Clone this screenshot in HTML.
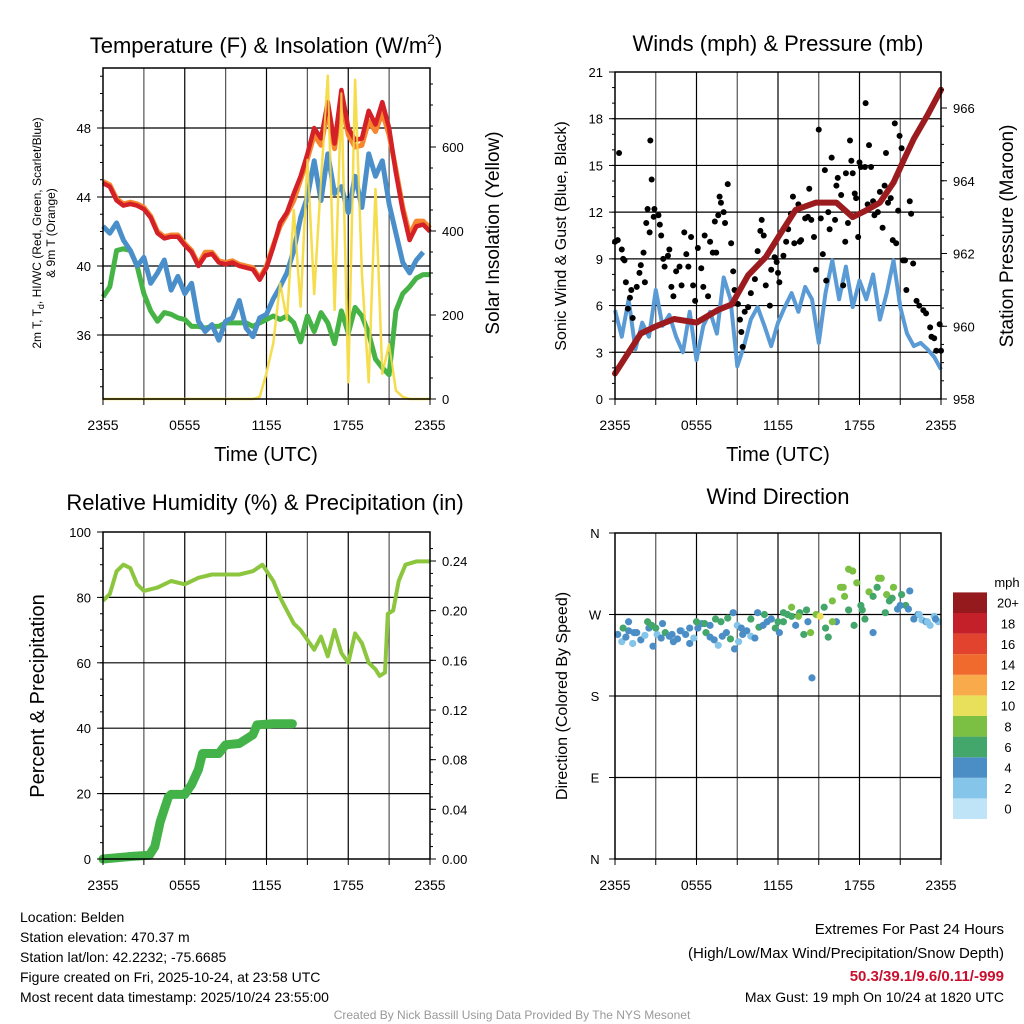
<!DOCTYPE html>
<html><head><meta charset="utf-8"><style>
body{margin:0;background:#fff;}
svg{display:block;font-family:"Liberation Sans",sans-serif;}
</style></head><body>
<svg id="c" width="1024" height="1024" viewBox="0 0 1024 1024"></svg>
<script>
// ---------- DATA ----------
const halfHours = [0,0.5,1,1.5,2,2.5,3,3.5,4,4.5,5,5.5,6,6.5,7,7.5,8,8.5,9,9.5,10,10.5,11,11.5,12,12.5,13,13.5,14,14.5,15,15.5,16,16.5,17,17.5,18,18.5,19,19.5,20,20.5,21,21.5,22,22.5,23,23.5,24];
const tempRed = [44.8,44.6,43.8,43.5,43.6,43.5,43.3,42.8,41.9,41.6,41.7,41.7,41.2,40.8,40.0,40.6,40.7,40.2,40.1,40.2,40.0,39.9,39.8,39.2,39.9,41.1,42.5,43.1,44.2,45.2,46.5,48.0,47.4,49.5,47.1,50.2,48.0,47.3,47.4,49.0,48.2,49.5,48.0,45.4,43.2,41.5,42.3,42.4,42.0];
const tempOrange = [44.9,44.7,43.9,43.6,43.7,43.6,43.4,42.9,42.0,41.7,41.8,41.8,41.3,40.9,40.1,40.8,40.8,40.3,40.2,40.3,40.1,40.0,39.9,39.3,40.0,41.2,42.3,43.0,43.8,45.0,46.2,47.6,47.0,49.0,46.8,49.6,47.6,46.9,47.0,48.4,47.8,48.9,47.6,45.6,43.4,41.8,42.6,42.6,42.2];
const tempBlue = [42.3,41.9,42.5,41.5,40.9,40.0,40.5,39.0,39.6,40.35,38.6,39.4,38.4,39.0,36.8,36.2,36.6,35.7,36.8,37.0,38.0,36.4,35.9,37.0,37.2,38.1,38.8,39.6,40.9,42.8,44.0,46.1,43.8,46.5,44.2,44.6,43.1,45.2,43.4,46.5,45.2,46.1,43.6,41.9,40.2,39.6,40.35,40.8,null];
const tempGreen = [38.2,38.8,40.9,41.0,40.9,40.0,38.4,37.4,36.8,37.3,37.2,37.0,36.9,36.5,36.5,36.4,36.5,36.5,36.7,36.7,36.7,36.7,36.5,36.7,36.9,37.1,36.9,37.1,36.7,35.6,37.1,36.2,37.3,36.7,35.5,37.4,36.1,37.6,37.1,36.1,34.6,34.1,33.7,37.4,38.4,38.8,39.3,39.5,39.5];
const solar = [0,0,0,0,0,0,0,0,0,0,0,0,0,0,0,0,0,0,0,0,0,0,0,5,62,133,276,188,450,220,570,250,520,770,212,728,40,760,300,40,500,60,130,20,5,0,0,0,0];

const pressHours = [0,1.9,3,4.35,6,7.6,8.6,9.8,11.1,12.1,13.3,14.8,16.3,17.5,18.3,19.5,20.5,21.3,22,23,24];
const pressVals = [958.7,959.8,960.0,960.2,960.1,960.45,960.6,961.4,961.9,962.5,963.2,963.4,963.4,963.0,963.15,963.4,963.95,964.6,965.15,965.8,966.5];
const windVals = [5.7,4.0,6.4,3.2,4.9,4.0,7.0,4.7,5.4,4.0,3.0,5.6,2.5,4.7,5.6,4.2,7.8,6.4,2.1,3.4,5.1,5.9,4.7,3.4,4.9,5.9,6.8,5.6,7.2,6.4,3.6,6.8,8.9,6.4,8.5,5.9,7.6,6.4,8.0,5.1,6.8,8.9,5.9,4.2,3.4,3.6,3.2,2.7,1.9];
const gustHours = [0,0.2,0.3,0.5,0.6,0.7,0.8,0.95,1.1,1.2,1.3,1.6,1.8,1.9,2.2,2.1,2.3,2.4,2.55,2.6,2.7,2.85,2.9,3.2,3.3,3.4,3.55,3.65,3.9,4.0,4.15,4.3,4.5,4.75,4.9,5.1,5.25,5.4,5.6,5.75,5.9,6.1,6.35,6.5,6.6,6.85,7.0,7.2,7.35,7.45,7.6,7.7,7.8,8.0,8.1,8.3,8.55,8.7,8.8,9.05,9.2,9.3,9.4,9.55,9.8,10.0,10.3,10.5,10.7,10.8,10.95,11.1,11.4,11.5,11.75,11.9,12.0,12.1,12.4,12.6,12.75,12.95,13.1,13.2,13.5,13.6,13.7,14.0,14.2,14.3,14.45,14.65,14.8,15.0,15.15,15.3,15.45,15.55,15.7,15.8,15.95,16.2,16.3,16.4,16.65,16.8,16.95,17.0,17.15,17.3,17.4,17.5,17.65,17.75,17.9,18.0,18.1,18.4,18.45,18.6,18.7,18.85,19.0,19.1,19.35,19.5,19.7,19.85,19.95,20.1,20.3,20.45,20.6,20.7,20.85,20.95,21.1,21.2,21.35,21.45,21.7,21.8,21.95,22.2,22.4,22.7,22.9,23.2,23.3,23.5,23.65,23.9,24.0];
const gustVals = [10.1,10.2,15.8,9.6,9.0,8.9,7.5,5.8,6.5,7.0,5.2,7.2,8.1,8.6,7.5,9.4,11.3,12.2,10.7,16.6,14.1,11.7,12.2,11.8,11.2,10.5,9.0,8.5,9.2,9.6,7.2,6.6,8.2,8.5,7.3,10.7,9.3,8.5,10.4,7.3,6.3,9.7,8.4,7.2,10.5,6.6,10.1,9.4,11.4,9.4,11.8,13.0,12.6,12.0,11.3,13.8,10.0,8.2,7.0,6.1,5.1,4.3,3.35,5.6,5.9,6.8,7.7,9.5,10.8,11.5,10.5,7.3,6.0,8.3,9.1,8.8,8.1,7.5,9.2,10.1,10.9,11.9,13.0,10.0,12.5,10.1,10.2,11.6,11.7,13.5,11.5,10.4,8.3,17.3,11.6,9.3,14.7,7.6,12.0,10.9,15.5,11.5,13.7,14.2,13.1,7.3,10.1,14.5,11.3,16.6,15.3,14.5,13.2,12.9,10.4,15.2,14.9,14.9,19.0,12.5,16.3,14.9,12.7,11.8,12.0,13.3,11.0,13.7,15.8,12.6,12.9,10.2,17.7,10.0,12.1,16.9,16.1,8.9,8.9,7.0,12.7,11.9,8.7,6.3,6.0,5.7,5.5,4.6,4.0,3.9,3.1,4.8,3.1];

const rhHours = [0,0.5,1,1.5,2,2.5,3,4,5,6,7,8,9,10,11,11.7,12.5,13,13.5,14,14.5,15,15.5,16,16.5,17,17.5,18,18.5,19,19.5,20,20.3,20.7,20.9,21.3,21.7,22.2,23,24];
const rhVals = [79,81,88,90,89,84,82,83,85,84,86,87,87,87,88,90,85,80,76,72,70,67,64,68,62,70,63,60,69,66,60,58,56,57,75,76,85,90,91,91];
const precipHours = [0,2,3.4,3.8,4.2,4.5,4.8,5.0,6.0,6.5,7.0,7.3,8.5,9.0,10.0,11.0,11.3,12.5,13.9];
const precipVals = [0,0.002,0.003,0.01,0.03,0.04,0.05,0.052,0.052,0.06,0.072,0.085,0.085,0.092,0.093,0.1,0.108,0.109,0.109];

const dirHours = [0.2,0.5,0.8,1.0,1.3,1.6,1.9,2.2,2.5,2.8,3.1,3.4,3.7,4.0,4.3,4.6,4.9,5.2,5.5,5.8,6.1,6.4,6.7,7.0,7.3,7.6,7.9,8.2,8.5,8.8,9.1,9.4,9.7,10.0,10.3,10.6,10.9,11.2,11.5,11.8,12.1,12.4,12.7,13.0,13.3,13.6,13.9,14.2,14.5,14.8,15.1,15.4,15.7,16.0,16.3,16.6,16.9,17.2,17.5,17.8,18.1,18.4,18.7,19.0,19.3,19.6,19.9,20.2,20.5,20.8,21.1,21.4,21.7,22.0,22.3,22.6,22.9,23.2,23.5,23.8,
 0.6,1.0,1.4,2.4,2.7,3.0,3.5,4.2,4.8,5.5,6.0,6.6,7.0,7.4,7.8,8.3,8.7,9.0,9.3,10.0,10.5,11.0,11.5,12.0,12.4,13.0,13.5,14.1,14.4,15.5,16.0,16.8,17.2,17.6,18.2,19.0,19.4,20.0,20.4,21.0,21.6,22.4,23.0,23.6];
const dirVals = [248,240,245,252,238,250,242,247,255,235,248,244,250,246,240,243,252,248,238,244,255,260,250,245,242,236,246,250,243,232,240,248,252,246,244,256,258,262,265,255,250,262,270,268,258,272,248,262,200,270,268,278,245,285,262,300,290,275,318,305,280,265,295,250,300,310,272,285,300,276,292,280,296,265,270,264,262,258,268,262,
 255,262,250,262,258,255,260,248,252,255,262,260,258,265,262,266,272,258,255,265,272,270,265,262,272,278,268,275,250,255,262,300,320,258,275,290,310,292,288,280,276,270,262,265];
const dirSpeeds = [3,2,4,3,2,4,3,1,4,3,2,3,5,4,3,4,2,3,4,2,4,3,5,3,4,2,3,4,5,3,2,4,3,2,4,5,4,3,6,5,4,5,6,5,4,6,5,4,3,7,10,6,5,7,4,8,7,6,8,7,6,5,7,4,6,8,5,6,7,4,6,5,4,3,3,2,3,2,2,1,
 6,4,4,6,6,5,4,4,3,4,5,5,4,6,6,6,3,2,4,6,4,5,4,6,6,8,7,6,8,6,8,8,8,6,6,6,7,8,6,4,3,2,2,3];
const speedBins = ["0","2","4","6","8","10","12","14","16","18","20+"];
const speedColors = ["#bfe4f7","#86c5ea","#4b8ec6","#43a66b","#7bc043","#e8e05a","#f9aa4a","#ef6a2c","#e1432f","#c3202a","#951a1e"];
const timeLabels = ["2355","0555","1155","1755","2355"];

// ---------- HELPERS ----------
const NS="http://www.w3.org/2000/svg";
const svg=document.getElementById('c');
function mk(tag,attrs,parent){const e=document.createElementNS(NS,tag);for(const k in attrs)e.setAttribute(k,attrs[k]);(parent||svg).appendChild(e);return e;}
function txt(s,x,y,size,anchor,parent,extra){const t=mk('text',Object.assign({x:x,y:y,'font-size':size,'text-anchor':anchor||'middle',fill:'#000'},extra||{}),parent);t.textContent=s;return t;}
function lin(d0,d1,r0,r1){return v=>r0+(v-d0)/(d1-d0)*(r1-r0);}
function pathFrom(xs,ys,fx,fy){let d='',pen=false;for(let i=0;i<xs.length;i++){if(ys[i]==null){pen=false;continue;}d+=(pen?'L':'M')+fx(xs[i]).toFixed(1)+','+fy(ys[i]).toFixed(1);pen=true;}return d;}

function frame(g,L,R,T,B,hGridYs){
  for(let i=1;i<8;i++){const x=L+(R-L)*i/8;const l=mk('line',{x1:x,x2:x,y1:T,y2:B,stroke:i%2?'#555':'#000','stroke-width':1.2},g);}
  hGridYs.forEach(y=>{const l=mk('line',{x1:L,x2:R,y1:y,y2:y,stroke:'#000','stroke-width':1.2},g);});
}
function border(g,L,R,T,B){const r=mk('rect',{x:L,y:T,width:R-L,height:B-T,fill:'none',stroke:'#000','stroke-width':1.5},g);}
function xTicks(g,L,R,B){
  timeLabels.forEach((s,i)=>{const x=L+(R-L)*i/4;const t=txt(s,x,B+31,14,'middle',g);mk('line',{x1:x,x2:x,y1:B,y2:B+6,stroke:'#000'},g);});
  for(let i=1;i<8;i+=2){const x=L+(R-L)*i/8;mk('line',{x1:x,x2:x,y1:B,y2:B+6,stroke:'#000'},g);}
}

// ---------- PANEL 1 ----------
{
const g=mk('g',{});
const L=103,R=430,T=68,B=399;
const fx=lin(0,24,L,R), fy=lin(36,48,335,128), fs=lin(0,600,399,147);
frame(g,L,R,T,B,[48,44,40,36].map(fy));
const ps=mk('path',{d:pathFrom(halfHours,solar,fx,fs),fill:'none',stroke:'#f6dd4e','stroke-width':2.5,'stroke-linejoin':'round'},g);
const pg=mk('path',{d:pathFrom(halfHours,tempGreen,fx,fy),fill:'none',stroke:'#46b346','stroke-width':5,'stroke-linejoin':'round'},g);
const pb=mk('path',{d:pathFrom(halfHours,tempBlue,fx,fy),fill:'none',stroke:'#4a8fca','stroke-width':5,'stroke-linejoin':'round'},g);
const po=mk('path',{d:pathFrom(halfHours,tempOrange,fx,fy),fill:'none',stroke:'#f7862e','stroke-width':5,'stroke-linejoin':'round'},g);
const pr=mk('path',{d:pathFrom(halfHours,tempRed,fx,fy),fill:'none',stroke:'#d42027','stroke-width':4.5,'stroke-linejoin':'round'},g);
const ps2=mk('path',{d:pathFrom(halfHours,solar,fx,fs),fill:'none',stroke:'#f6dd4e','stroke-width':2,'stroke-linejoin':'round',opacity:0.85},g);
border(g,L,R,T,B);
[36,40,44,48].forEach(v=>{const t=txt(String(v),L-12,fy(v)+5,13,'end',g);mk('line',{x1:L-6,x2:L,y1:fy(v),y2:fy(v),stroke:'#000'},g);});
for(let v=33;v<=51;v++){mk('line',{x1:L-3,x2:L,y1:fy(v),y2:fy(v),stroke:'#000'},g);}
[0,200,400,600].forEach(v=>{const t=txt(String(v),R+12,fs(v)+5,13,'start',g);mk('line',{x1:R,x2:R+6,y1:fs(v),y2:fs(v),stroke:'#000'},g);});
for(let v=50;v<=750;v+=50){mk('line',{x1:R,x2:R+3,y1:fs(v),y2:fs(v),stroke:'#000'},g);}
xTicks(g,L,R,B);
let t=txt('Time (UTC)',266,461,20,'middle',g);
t=txt('',266,53,22,'middle',g);
t.innerHTML='Temperature (F) &amp; Insolation (W/m<tspan font-size="14" dy="-9">2</tspan><tspan dy="9">)</tspan>';
t=txt('',0,0,12,'middle',g,{transform:'translate(41,233) rotate(-90)'});
t.innerHTML='2m T, T<tspan font-size="9" dy="3">d</tspan><tspan dy="-3">, HI/WC (Red, Green, Scarlet/Blue)</tspan>';
t=txt('& 9m T (Orange)',0,0,12,'middle',g,{transform:'translate(55,233) rotate(-90)'});
t=txt('Solar Insolation (Yellow)',0,0,19,'middle',g,{transform:'translate(499,233) rotate(-90)'});
}

// ---------- PANEL 2 ----------
{
const g=mk('g',{});
const L=615,R=941,T=72,B=399;
const fx=lin(0,24,L,R), fy=lin(0,21,399,72), fp=lin(958,966,399,108);
frame(g,L,R,T,B,[3,6,9,12,15,18].map(fy));
const pw=mk('path',{d:pathFrom(halfHours,windVals,fx,fy),fill:'none',stroke:'#5b9bd5','stroke-width':4,'stroke-linejoin':'round'},g);
gustHours.forEach((h,i)=>{const c=mk('circle',{cx:fx(h),cy:fy(gustVals[i]),r:3,fill:'#000'},g);});
const pp=mk('path',{d:pathFrom(pressHours,pressVals,fx,fp),fill:'none',stroke:'#9b1b1e','stroke-width':6,'stroke-linejoin':'round','stroke-linecap':'round'},g);
border(g,L,R,T,B);
for(let v=0;v<=21;v+=3){const t=txt(String(v),L-12,fy(v)+5,13,'end',g);mk('line',{x1:L-6,x2:L,y1:fy(v),y2:fy(v),stroke:'#000'},g);}
for(let v=1;v<21;v++){mk('line',{x1:L-3,x2:L,y1:fy(v),y2:fy(v),stroke:'#000'},g);}
[958,960,962,964,966].forEach(v=>{const t=txt(String(v),R+12,fp(v)+5,13,'start',g);mk('line',{x1:R,x2:R+6,y1:fp(v),y2:fp(v),stroke:'#000'},g);});
for(let v=958.5;v<967;v+=0.5){mk('line',{x1:R,x2:R+3,y1:fp(v),y2:fp(v),stroke:'#000'},g);}
xTicks(g,L,R,B);
let t=txt('Time (UTC)',778,461,20,'middle',g);
t=txt('Winds (mph) & Pressure (mb)',778,51,22,'middle',g);
t=txt('Sonic Wind & Gust (Blue, Black)',0,0,16,'middle',g,{transform:'translate(566,236) rotate(-90)'});
t=txt('Station Pressure (Maroon)',0,0,19,'middle',g,{transform:'translate(1013,236) rotate(-90)'});
}

// ---------- PANEL 3 ----------
{
const g=mk('g',{});
const L=103,R=430,T=532,B=859;
const fx=lin(0,24,L,R), fy=lin(0,100,859,532), fp=lin(0,0.24,859,561);
frame(g,L,R,T,B,[20,40,60,80].map(fy));
const pr=mk('path',{d:pathFrom(rhHours,rhVals,fx,fy),fill:'none',stroke:'#8cc63f','stroke-width':4,'stroke-linejoin':'round'},g);
const pq=mk('path',{d:pathFrom(precipHours,precipVals,fx,fp),fill:'none',stroke:'#43b349','stroke-width':9,'stroke-linejoin':'round','stroke-linecap':'round'},g);
border(g,L,R,T,B);
for(let v=0;v<=100;v+=20){const t=txt(String(v),L-12,fy(v)+5,13,'end',g);mk('line',{x1:L-6,x2:L,y1:fy(v),y2:fy(v),stroke:'#000'},g);}
for(let v=5;v<100;v+=5){mk('line',{x1:L-3,x2:L,y1:fy(v),y2:fy(v),stroke:'#000'},g);}
for(let v=0;v<=6;v++){const val=v*0.04;const t=txt(val.toFixed(2),R+12,fp(val)+5,13,'start',g);mk('line',{x1:R,x2:R+6,y1:fp(val),y2:fp(val),stroke:'#000'},g);}
for(let v=0.01;v<0.26;v+=0.01){mk('line',{x1:R,x2:R+3,y1:fp(v),y2:fp(v),stroke:'#000'},g);}
xTicks(g,L,R,B);
let t=txt('Relative Humidity (%) & Precipitation (in)',265,510,22,'middle',g);
t=txt('Percent & Precipitation',0,0,20,'middle',g,{transform:'translate(44,696) rotate(-90)'});
}

// ---------- PANEL 4 ----------
{
const g=mk('g',{});
const L=615,R=941,T=533,B=859;
const fx=lin(0,24,L,R), fy=lin(0,360,859,533);
frame(g,L,R,T,B,[90,180,270].map(fy));
dirHours.forEach((h,i)=>{const idx=Math.max(0,Math.min(10,Math.round(dirSpeeds[i]/2)));const c=mk('circle',{cx:fx(h),cy:fy(dirVals[i]),r:3.6,fill:speedColors[idx]},g);});
border(g,L,R,T,B);
["N","E","S","W","N"].forEach((s,i)=>{const v=i*90;const t=txt(s,L-20,fy(v)+5,13,'middle',g);mk('line',{x1:L-6,x2:L,y1:fy(v),y2:fy(v),stroke:'#000'},g);});
xTicks(g,L,R,B);
let t=txt('Wind Direction',778,504,22,'middle',g);
t=txt('Direction (Colored By Speed)',0,0,16,'middle',g,{transform:'translate(567,696) rotate(-90)'});
const lg=mk('g',{},g);
const bh=20.6;
speedBins.forEach((s,i)=>{const y=819-(i+1)*bh;const r=mk('rect',{x:953,y:y,width:34,height:bh,fill:speedColors[i]},lg);const tt=txt(s,1008,y+bh/2+5,13,'middle',lg);});
t=txt('mph',1007,587,13,'middle',lg);
}

// ---------- FOOTER TEXT ----------
{
const g=mk('g',{});
["Location: Belden","Station elevation: 470.37 m","Station lat/lon: 42.2232; -75.6685","Figure created on Fri, 2025-10-24, at 23:58 UTC","Most recent data timestamp: 2025/10/24 23:55:00"].forEach((s,i)=>{const t=txt(s,20,922+i*20,14,'start',g);});
const h=mk('g',{});
let t=txt('Extremes For Past 24 Hours',1004,934,15,'end',h);
t=txt('(High/Low/Max Wind/Precipitation/Snow Depth)',1004,958,15,'end',h);
t=txt('50.3/39.1/9.6/0.11/-999',1004,981,15,'end',h,{fill:'#c8102e','font-weight':'bold'});
t=txt('Max Gust: 19 mph On 10/24 at 1820 UTC',1004,1002,14,'end',h);
t=txt('Created By Nick Bassill Using Data Provided By The NYS Mesonet',512,1019,12,'middle',svg,{fill:'#999'});
}
</script>
</body></html>
